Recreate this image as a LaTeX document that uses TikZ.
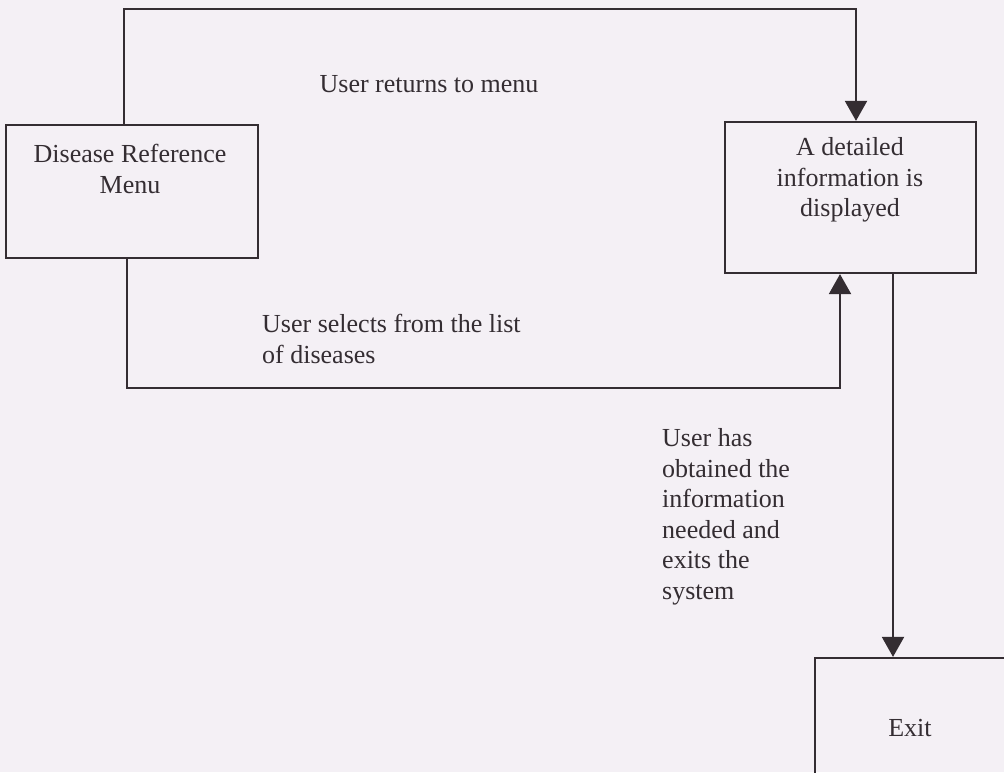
\documentclass[tikz,border=0pt]{standalone}
\usepackage{fontspec}
\setmainfont{Liberation Serif}
\usetikzlibrary{arrows.meta}
\definecolor{paper}{RGB}{244,240,245}
\definecolor{ink}{RGB}{52,45,50}
\begin{document}
\begin{tikzpicture}[x=1pt,y=-1pt,
  box/.style={draw=ink, line width=2.2pt, rectangle, inner sep=0pt},
  flow/.style={draw=ink, line width=2pt},
  tip/.style={-{Triangle[width=22pt,length=20pt]}},
  txt/.style={text=ink, inner sep=0pt, font=\fontsize{26}{30.5}\selectfont}]
  % page
  \fill[paper] (0,0) rectangle (1004,772);
  \useasboundingbox (0,0) rectangle (1004,772);

  % boxes
  \node[box, minimum width=252pt, minimum height=133pt] (menu) at (132,191.5) {};
  \node[box, minimum width=251pt, minimum height=151pt] (info) at (850.5,197.5) {};
  \node[box, minimum width=200pt, minimum height=138pt] (exit) at (915,727) {};

  % box texts
  \node[txt, align=center] (menutxt) at (130,169) {Disease Reference\\Menu};
  \node[txt, align=center] (infotxt) at (850,180) {A detailed\\information is\\displayed};
  \node[txt] (exittxt) at (910,728) {Exit};

  % routing points
  \coordinate (t1) at (124,9);
  \coordinate (t2) at (856,9);
  \coordinate (b1) at (127,388);
  \coordinate (b2) at (840,388);
  \coordinate (e1) at (893,400);

  % connectors
  \draw[flow, tip] (menu.north -| t1) -- (t1) -- (t2) -- (info.north -| t2);
  \draw[flow, tip] (menu.south -| b1) -- (b1) -- (b2) -- (info.south -| b2);
  \draw[flow, tip] (info.south -| e1) -- (exit.north -| e1);

  % connector labels
  \node[txt] (lret) at (429,84) {User returns to menu};
  \node[txt, align=left, anchor=west] (lsel) at (262,339) {User selects from the list\\of diseases};
  \node[txt, align=left, anchor=west] (lexit) at (662,517) {User has\\obtained the\\information\\needed and\\exits the\\system};
\end{tikzpicture}
\end{document}
